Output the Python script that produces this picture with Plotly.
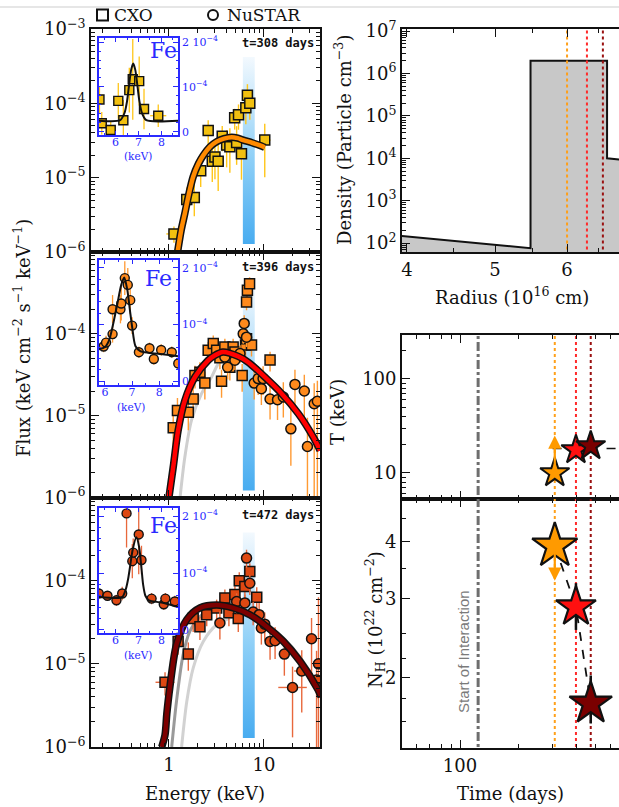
import numpy as np
import plotly.graph_objects as go

W, H = 619, 807


def fx(p):
    """pixel column -> paper x"""
    return p / W


def fy(p):
    """pixel row -> paper y"""
    return 1 - p / H


# ---------------- X-ray spectra (keV, keV cm^-2 s^-1 keV^-1) ----------------
# t = 308 days, Chandra only
E1 = [1.13, 1.54, 1.85, 2.16, 2.59, 2.86, 3.05, 3.30, 3.64, 4.05, 4.38, 4.92, 5.16, 5.40, 5.80, 6.45, 6.70, 7.10, 10.2]
F1 = [1.75e-6, 5.1e-6, 5.4e-6, 1.24e-5, 4.3e-5, 1.66e-5, 1.9e-5, 1.66e-5, 3.6e-5, 2.75e-5, 2.6e-5, 6.4e-5,
      2.97e-5, 7.0e-5, 2.1e-5, 8.7e-5, 1.28e-4, 1.0e-4, 3.2e-5]
F1_UP = [0.10, 0.16, 0.20, 0.18, 0.14, 0.20, 0.22, 0.28, 0.14, 0.20, 0.25, 0.12, 0.22, 0.14, 0.22, 0.16, 0.15, 0.14, 0.22]
F1_DN = [0.12, 0.20, 0.25, 0.22, 0.18, 0.28, 0.30, 0.40, 0.20, 0.30, 0.35, 0.16, 0.30, 0.20, 0.35, 0.22, 0.20, 0.22, 0.50]
E1_ERR = [0.08, 0.03, 0.03, 0.03, 0.03, 0.02, 0.02, 0.02, 0.02, 0.02, 0.02, 0.02, 0.02, 0.02, 0.02, 0.02, 0.02, 0.02, 0.06]
M1_E = [1.20, 1.35, 1.47, 1.62, 1.80, 2.05, 2.30, 2.70, 3.18, 3.80, 4.57, 5.30, 6.05, 7.50, 9.40, 10.2]
M1_F = [8e-7, 2.0e-6, 3.3e-6, 6.0e-6, 1.03e-5, 1.55e-5, 2.0e-5, 2.6e-5, 3.05e-5, 3.35e-5, 3.5e-5, 3.4e-5,
        3.2e-5, 2.95e-5, 2.67e-5, 2.55e-5]

# t = 396 days, Chandra + NuSTAR
E2C = [1.11, 1.23, 1.60, 1.80, 1.88, 2.12, 2.39, 2.59, 2.93, 3.18, 3.44, 3.58, 3.88, 4.38, 4.74, 4.95, 5.90,
       6.40, 6.56, 6.56, 6.70, 7.06, 7.40, 11.6]
F2C = [7.1e-6, 1.16e-5, 1.1e-5, 1.6e-5, 3.1e-5, 3.4e-5, 2.5e-5, 6.3e-5, 7.6e-5, 6.3e-5, 5.1e-5, 2.63e-5, 6.9e-5,
       3.9e-5, 6.9e-5, 6.0e-5, 3.1e-5, 7.3e-5, 8.7e-5, 2.45e-4, 3.4e-4, 4.1e-4, 7.3e-5, 4.8e-5]
F2C_UP = [0.18, 0.15, 0.16, 0.14, 0.12, 0.12, 0.14, 0.10, 0.10, 0.10, 0.10, 0.14, 0.10, 0.12, 0.10, 0.10, 0.14,
          0.10, 0.10, 0.08, 0.08, 0.08, 0.10, 0.10]
F2C_DN = [0.25, 0.20, 0.22, 0.18, 0.16, 0.16, 0.20, 0.14, 0.14, 0.14, 0.14, 0.20, 0.14, 0.16, 0.14, 0.14, 0.20,
          0.14, 0.14, 0.10, 0.10, 0.10, 0.14, 0.14]
E2C_ERR = [0.03] * 23 + [0.06]
E2N = [3.88, 4.15, 4.95, 5.60, 6.05, 6.20, 6.56, 7.90, 8.70, 9.40, 9.80, 11.6, 13.9, 16.0, 19.2, 21.2, 26.6, 28.7,
       33.8, 36.5]
F2N = [5.2e-5, 3.9e-5, 4.75e-5, 5.75e-5, 1.0e-4, 1.34e-4, 9.1e-5, 2.5e-5, 2.84e-5, 2.14e-5, 2.84e-5, 1.6e-5,
       1.57e-5, 1.69e-5, 6.9e-6, 2.41e-5, 2.0e-5, 4.2e-6, 1.4e-5, 1.5e-5]
F2N_UP = [0.10, 0.12, 0.10, 0.10, 0.10, 0.10, 0.10, 0.15, 0.15, 0.15, 0.15, 0.18, 0.18, 0.18, 0.25, 0.18, 0.20,
          0.35, 0.25, 0.25]
F2N_DN = [0.12, 0.15, 0.12, 0.12, 0.12, 0.12, 0.12, 0.20, 0.20, 0.20, 0.20, 0.25, 0.25, 0.25, 0.45, 0.30, 0.40,
          1.00, 1.20, 1.20]
E2N_ERR = [0.02] * 11 + [0.04, 0.04, 0.04, 0.05, 0.05, 0.05, 0.05, 0.04, 0.04]
M2_E = [1.0, 1.11, 1.25, 1.47, 1.88, 2.59, 3.0, 3.7, 5.37, 6.83, 10.2, 15.3, 23.0, 33.0, 39.0]
M2_F = [1.0e-6, 2.35e-6, 6.6e-6, 1.53e-5, 2.97e-5, 4.75e-5, 5.4e-5, 6.0e-5, 5.3e-5, 4.5e-5, 2.97e-5, 1.87e-5,
        1.06e-5, 5.5e-6, 3.76e-6]
G2_E = [1.31, 1.47, 1.73, 2.21, 2.81, 3.3, 4.2]
G2_F = [1.0e-6, 3.1e-6, 8.8e-6, 1.87e-5, 2.96e-5, 4.3e-5, 5.8e-5]

# t = 472 days, Chandra + NuSTAR
E3C = [0.91, 1.25, 1.60, 1.80, 2.12, 2.50, 3.18, 3.88, 4.28, 4.95, 5.37, 5.50, 6.30, 7.10, 8.40]
F3C = [6.0e-6, 1.86e-5, 1.31e-5, 3.5e-5, 2.8e-5, 3.9e-5, 4.7e-5, 6.2e-5, 4.1e-5, 6.8e-5, 3.5e-5, 1.0e-4, 8.5e-5,
       1.29e-4, 6.3e-5]
F3C_UP = [0.12, 0.12, 0.14, 0.12, 0.12, 0.10, 0.10, 0.10, 0.12, 0.10, 0.12, 0.10, 0.10, 0.10, 0.12]
F3C_DN = [0.16, 0.16, 0.20, 0.16, 0.16, 0.14, 0.14, 0.14, 0.16, 0.14, 0.16, 0.14, 0.14, 0.14, 0.16]
E3C_ERR = [0.10] + [0.03] * 14
E3N = [3.44, 5.16, 6.30, 6.56, 7.10, 7.70, 8.90, 9.40, 10.2, 11.6, 13.1, 16.4, 20.0, 25.0, 31.7, 35.8, 37.5]
F3N = [3.1e-5, 5.6e-5, 5.4e-5, 1.87e-4, 9.3e-5, 4.2e-5, 3.9e-5, 2.7e-5, 3.0e-5, 1.86e-5, 1.9e-5, 1.31e-5,
       5.2e-6, 8.2e-6, 2.0e-5, 6.4e-6, 1.0e-5]
F3N_UP = [0.14, 0.10, 0.10, 0.10, 0.10, 0.12, 0.14, 0.14, 0.14, 0.16, 0.16, 0.18, 0.25, 0.25, 0.25, 0.35, 0.80]
F3N_DN = [0.20, 0.14, 0.14, 0.12, 0.14, 0.16, 0.20, 0.20, 0.20, 0.22, 0.22, 0.26, 0.60, 0.50, 0.45, 1.20, 1.20]
E3N_ERR = [0.02] * 10 + [0.04, 0.04, 0.15, 0.08, 0.05, 0.04, 0.04]
M3_E = [0.84, 0.91, 0.95, 1.02, 1.2, 1.54, 2.12, 3.18, 4.74, 7.1, 10.7, 16.0, 24.0, 37.0, 40.0]
M3_F = [1.0e-6, 1.4e-6, 2.5e-6, 5.1e-6, 1.7e-5, 3.4e-5, 4.7e-5, 5.1e-5, 4.7e-5, 3.9e-5, 2.8e-5, 1.86e-5,
        1.07e-5, 4.9e-6, 4.0e-6]
G3A_E = [1.07, 1.2, 1.41, 1.66, 2.12, 2.8, 3.5, 4.74, 7.1, 10.7, 16.0, 24.0, 37.0, 40.0]
G3A_F = [1.0e-6, 3.5e-6, 1.28e-5, 2.45e-5, 3.7e-5, 4.6e-5, 5.0e-5, 4.9e-5, 4.15e-5, 3.0e-5, 2.05e-5, 1.2e-5,
         5.5e-6, 4.5e-6]
G3B_E = [1.36, 1.54, 1.8, 2.3, 3.18, 4.74, 6.0]
G3B_F = [1.0e-6, 3.5e-6, 8.9e-6, 1.86e-5, 2.95e-5, 3.7e-5, 4.2e-5]

# Fe K line band (keV) and its vertical extent in each panel
FE_BAND = [6.0, 8.0]
BAND_TOP = [4.2e-4, 4.2e-4, 3.8e-4]
BAND_BOT = [1.28e-6, 1.22e-6, 1.28e-6]

# ---------------- Fe-line insets (flux in units of 1e-4) ----------------
I1_E = [5.30, 5.40, 5.79, 6.12, 6.34, 6.60, 6.75, 7.03, 7.24, 7.86]
I1_F = [0.72, 0.19, 0.04, 0.69, 0.26, 0.93, 1.17, 1.13, 0.51, 0.36]
I1_ERR = [0.30, 0.25, 0.20, 0.40, 0.45, 0.50, 0.90, 0.55, 0.45, 0.25]
I1_XERR = [0.12, 0.05, 0.05, 0.05, 0.05, 0.05, 0.05, 0.05, 0.05, 0.35]
I1M_E = [5.28, 6.2, 6.39, 6.5, 6.58, 6.68, 6.77, 6.86, 6.96, 7.04, 7.15, 7.34, 8.72]
I1M_F = [0.25, 0.26, 0.42, 0.68, 1.0, 1.38, 1.52, 1.38, 1.0, 0.68, 0.42, 0.26, 0.25]

I2_E = [5.95, 6.04, 6.28, 6.28, 6.57, 6.60, 6.73, 6.84, 6.93, 7.00, 7.25, 7.64, 7.80, 8.07, 8.46, 8.70]
I2_F = [0.61, 0.68, 0.83, 1.27, 1.27, 1.37, 1.82, 1.70, 1.43, 0.98, 0.51, 0.58, 0.39, 0.55, 0.51, 0.31]
I2_ERR = [0.10, 0.12, 0.15, 0.25, 0.25, 0.30, 0.30, 0.30, 0.25, 0.15, 0.10, 0.10, 0.10, 0.10, 0.10, 0.10]
I2_XERR = [0.05] * 16
I2M_E = [5.78, 6.0, 6.15, 6.28, 6.45, 6.6, 6.71, 6.82, 6.92, 7.0, 7.12, 7.3, 7.6, 8.2, 8.69]
I2M_F = [0.56, 0.60, 0.72, 0.96, 1.35, 1.70, 1.83, 1.62, 1.25, 0.96, 0.62, 0.53, 0.50, 0.47, 0.44]

I3_E = [5.27, 5.65, 6.04, 6.29, 6.48, 6.73, 6.77, 7.01, 7.13, 7.57, 8.10, 8.17, 8.58]
I3_F = [0.64, 0.60, 0.52, 0.64, 2.05, 1.21, 1.36, 1.68, 1.23, 0.55, 0.45, 0.55, 0.50]
I3_ERR = [0.08, 0.08, 0.10, 0.12, 0.60, 0.30, 0.25, 0.70, 0.25, 0.10, 0.10, 0.10, 0.10]
I3_XERR = [0.06, 0.1, 0.1, 0.1, 0.05, 0.05, 0.05, 0.05, 0.05, 0.1, 0.1, 0.1, 0.1]
I3M_E = [5.28, 6.0, 6.3, 6.45, 6.55, 6.62, 6.75, 6.91, 7.03, 7.13, 7.2, 7.3, 7.45, 8.0, 8.72]
I3M_F = [0.58, 0.56, 0.58, 0.72, 0.90, 1.08, 1.42, 1.63, 1.45, 1.08, 0.80, 0.60, 0.52, 0.48, 0.40]

# ---------------- CSM density profile ----------------
RADIUS = [3.9, 5.47, 5.47, 6.64, 6.64, 6.78, 7.0]        # 1e16 cm
DENSITY = [150, 76, 2.0e6, 2.0e6, 1.0e4, 9.5e3, 9.0e3]   # particles cm^-3
R_EPOCH = [6.0, 6.31, 6.57]

# ---------------- temperature and column density vs time ----------------
T_DAYS = [308, 396, 472]
T_KEV = [10.0, 17.6, 19.4]
T_LIMIT = 25.0            # lower-limit arrow tip for the first epoch
T_FIT_DAYS = [300, 700]
T_FIT = [18.2, 18.2]
NH = [3.92, 2.87, 1.75]
NH_HI = [3.92, 3.24, 2.02]
NH_LO = [3.28, 2.55, 1.58]
T_START = 124             # start of interaction (days)

EPOCH_LABELS = ["t=308 days", "t=396 days", "t=472 days"]
EPOCH_COLORS = ["#ffa01a", "#ff2a2a", "#9a1010"]
STAR_COLORS = ["#ff9a00", "#ff1010", "#7a0000"]

SERIF = "DejaVu Serif"
INK = "#111111"
BLUE = "#2a2aff"

fig = go.Figure()


def log_err(vals, up, dn):
    v = np.array(vals, float)
    return v * (10 ** np.array(up) - 1), v * (1 - 10 ** -np.array(dn))


def add_points(xa, ya, E, F, up, dn, xe, symbol, fill, ecol):
    ey_p, ey_m = log_err(F, up, dn)
    ex_p, ex_m = log_err(E, xe, xe)
    fig.add_trace(go.Scatter(
        x=E, y=F, mode="markers", xaxis=xa, yaxis=ya, showlegend=False,
        marker=dict(symbol=symbol, size=10, color=fill, opacity=1, line=dict(color=INK, width=1.5)),
        error_y=dict(type="data", array=ey_p, arrayminus=ey_m, color=ecol, thickness=1.4, width=0),
        error_x=dict(type="data", array=ex_p, arrayminus=ex_m, color=ecol, thickness=1.4, width=0),
    ))


def add_model(xa, ya, E, F, color, outline=True, width=4.5):
    if outline:
        fig.add_trace(go.Scatter(x=E, y=F, mode="lines", xaxis=xa, yaxis=ya, showlegend=False,
                                 line=dict(color=INK, width=width + 3, shape="spline", smoothing=0.8)))
    fig.add_trace(go.Scatter(x=E, y=F, mode="lines", xaxis=xa, yaxis=ya, showlegend=False,
                             line=dict(color=color, width=width, shape="spline", smoothing=0.8)))


def add_band(xa, ya, top, bot):
    fig.add_trace(go.Scatter(
        x=[FE_BAND[0], FE_BAND[1], FE_BAND[1], FE_BAND[0], FE_BAND[0]],
        y=[bot, bot, top, top, bot], mode="lines", fill="toself", xaxis=xa, yaxis=ya,
        showlegend=False, line=dict(width=0),
        fillgradient=dict(type="vertical",
                          colorscale=[[0, "#48acf0"], [0.45, "#8dcff7"], [1, "#f3f9fe"]]),
    ))


# panel 1
add_band("x", "y", BAND_TOP[0], BAND_BOT[0])
add_points("x", "y", E1, F1, F1_UP, F1_DN, E1_ERR, "square", "#f2c010", "#ffc61a")
add_model("x", "y", M1_E, M1_F, "#ff8a00")

# panel 2
add_band("x2", "y2", BAND_TOP[1], BAND_BOT[1])
add_model("x2", "y2", G2_E, G2_F, "#cfcfcf", outline=False, width=3)
add_points("x2", "y2", E2C, F2C, F2C_UP, F2C_DN, E2C_ERR, "square", "#ff8a1c", "#ff9a33")
add_points("x2", "y2", E2N, F2N, F2N_UP, F2N_DN, E2N_ERR, "circle", "#ff8a1c", "#ff9a33")
add_model("x2", "y2", M2_E, M2_F, "#ff0000")

# panel 3
add_band("x3", "y3", BAND_TOP[2], BAND_BOT[2])
add_model("x3", "y3", G3B_E, G3B_F, "#d2d2d2", outline=False, width=3)
add_model("x3", "y3", G3A_E, G3A_F, "#9a9a9a", outline=False, width=3)
add_points("x3", "y3", E3C, F3C, F3C_UP, F3C_DN, E3C_ERR, "square", "#de4812", "#e8683c")
add_points("x3", "y3", E3N, F3N, F3N_UP, F3N_DN, E3N_ERR, "circle", "#de4812", "#e8683c")
add_model("x3", "y3", M3_E, M3_F, "#7d0000")

# insets
for (xa, ya, E, F, ERR, XERR, ME, MF, sym, fill, ecol) in [
    ("x4", "y4", I1_E, I1_F, I1_ERR, I1_XERR, I1M_E, I1M_F, "square", "#f2c010", "#ffc61a"),
    ("x5", "y5", I2_E, I2_F, I2_ERR, I2_XERR, I2M_E, I2M_F, "circle", "#ff8a1c", "#ff9a33"),
    ("x6", "y6", I3_E, I3_F, I3_ERR, I3_XERR, I3M_E, I3M_F, "circle", "#de4812", "#e8683c"),
]:
    fig.add_trace(go.Scatter(
        x=E, y=np.array(F) * 1e-4, mode="markers", xaxis=xa, yaxis=ya, showlegend=False,
        marker=dict(symbol=sym, size=9, color=fill, opacity=1, line=dict(color=INK, width=1.4)),
        error_y=dict(type="data", array=np.array(ERR) * 1e-4, color=ecol, thickness=1.3, width=0),
        error_x=dict(type="data", array=XERR, color=ecol, thickness=1.3, width=0),
    ))
    fig.add_trace(go.Scatter(x=ME, y=np.array(MF) * 1e-4, mode="lines", xaxis=xa, yaxis=ya,
                             showlegend=False,
                             line=dict(color=INK, width=2, shape="spline", smoothing=0.7)))

# density profile
fig.add_trace(go.Scatter(
    x=RADIUS + [RADIUS[-1], RADIUS[0]], y=DENSITY + [1, 1], mode="lines", fill="toself",
    fillcolor="#c8c8c8", line=dict(color=INK, width=2), xaxis="x7", yaxis="y7", showlegend=False))
for r, c in zip(R_EPOCH, EPOCH_COLORS):
    fig.add_trace(go.Scatter(x=[r, r], y=[10, 1e8], mode="lines", xaxis="x7", yaxis="y7",
                             showlegend=False, line=dict(color=c, width=2, dash="dot")))

# time evolution panels
for xa, ya, lo, hi in [("x8", "y8", 1, 1000), ("x9", "y9", 1, 10)]:
    fig.add_trace(go.Scatter(x=[T_START, T_START], y=[lo, hi], mode="lines", xaxis=xa, yaxis=ya,
                             showlegend=False, line=dict(color="#6e6e6e", width=3, dash="dashdot")))
    for t, c in zip(T_DAYS, EPOCH_COLORS):
        fig.add_trace(go.Scatter(x=[t, t], y=[lo, hi], mode="lines", xaxis=xa, yaxis=ya,
                                 showlegend=False, line=dict(color=c, width=2, dash="dot")))

fig.add_trace(go.Scatter(x=T_FIT_DAYS, y=T_FIT, mode="lines", xaxis="x8", yaxis="y8", showlegend=False,
                         line=dict(color=INK, width=1.5, dash="dash")))
fig.add_trace(go.Scatter(x=T_DAYS, y=T_KEV, mode="markers", xaxis="x8", yaxis="y8", showlegend=False,
                         marker=dict(symbol="star", size=22, color=STAR_COLORS, opacity=1,
                                     line=dict(color=INK, width=2))))

fig.add_trace(go.Scatter(x=T_DAYS, y=NH, mode="lines", xaxis="x9", yaxis="y9", showlegend=False,
                         line=dict(color=INK, width=1.8, dash="dash")))
nh = np.array(NH)
fig.add_trace(go.Scatter(
    x=T_DAYS[1:], y=NH[1:], mode="markers", xaxis="x9", yaxis="y9", showlegend=False,
    marker=dict(symbol="star", size=1, color="rgba(0,0,0,0)"),
    error_y=dict(type="data", array=(np.array(NH_HI) - nh)[1:], arrayminus=(nh - np.array(NH_LO))[1:],
                 color=INK, thickness=2.5, width=0)))
fig.add_trace(go.Scatter(x=T_DAYS, y=NH, mode="markers", xaxis="x9", yaxis="y9", showlegend=False,
                         marker=dict(symbol="star", size=[34, 30, 32], color=STAR_COLORS, opacity=1,
                                     line=dict(color=INK, width=2.2))))

# ---------------- axes ----------------
tick_font = dict(family=SERIF, size=18, color=INK)
E_MINOR = [0.2, 0.3, 0.4, 0.5, 0.6, 0.7, 0.8, 0.9, 2, 3, 4, 5, 6, 7, 8, 9, 20, 30]
F_MINOR = [k * 10.0 ** d for d in (-6, -5, -4) for k in range(2, 10)]
F_TICKS = [1e-6, 1e-5, 1e-4, 1e-3]
PANEL_Y = [(252, 29), (497.5, 252), (747, 497.5)]

frame = dict(showline=True, linecolor=INK, linewidth=1.8, ticks="inside", ticklen=8, tickwidth=1.4,
             tickcolor=INK, showgrid=False, zeroline=False, tickfont=tick_font, automargin=False)
minor_style = dict(ticks="inside", ticklen=4, tickwidth=1.1, tickcolor=INK, showgrid=False)

layout_axes = {}
for i, (ybot, ytop) in enumerate(PANEL_Y, start=1):
    sx = "" if i == 1 else str(i)
    layout_axes[f"xaxis{sx}"] = dict(
        frame, type="log", range=[-0.82, 1.59], domain=[fx(91), fx(320)], anchor=f"y{sx}",
        mirror="allticks", tickvals=[1, 10], ticktext=["1", "10"], showticklabels=(i == 3),
        minor=dict(minor_style, tickvals=E_MINOR))
    layout_axes[f"yaxis{sx}"] = dict(
        frame, type="log", range=[-6, -3], domain=[fy(ybot), fy(ytop)], anchor=f"x{sx}",
        mirror="allticks", tickvals=F_TICKS,
        ticktext=["10<sup>−6</sup>", "10<sup>−5</sup>", "10<sup>−4</sup>",
                  "10<sup>−3</sup>" if i == 1 else ""],
        minor=dict(minor_style, tickvals=F_MINOR))

INSET_Y = [(135, 38, [5.28, 8.72], [-0.07e-4, 2.09e-4]),
           (385, 260, [5.78, 8.69], [-0.07e-4, 2.14e-4]),
           (632.7, 508.3, [5.28, 8.72], [-0.05e-4, 2.14e-4])]
blue_font = dict(family=SERIF, size=11, color=BLUE)
for k, (ybot, ytop, xr, yr) in enumerate(INSET_Y, start=4):
    layout_axes[f"xaxis{k}"] = dict(
        range=xr, domain=[fx(99), fx(178)], anchor=f"y{k}", automargin=False,
        showline=True, linecolor=BLUE, linewidth=1.5, mirror="allticks", ticks="inside", ticklen=4,
        tickcolor=BLUE, tickvals=[6, 7, 8], tickfont=blue_font, ticklabelstandoff=-4,
        showgrid=False, zeroline=False,
        minor=dict(ticks="inside", ticklen=2, tickcolor=BLUE, tickvals=[5.5, 6.5, 7.5, 8.5]))
    layout_axes[f"yaxis{k}"] = dict(
        range=yr, domain=[fy(ybot), fy(ytop)], anchor=f"x{k}", side="right", automargin=False,
        showline=True, linecolor=BLUE, linewidth=1.5, mirror="allticks", ticks="inside", ticklen=5,
        tickcolor=BLUE, tickvals=[0, 1e-4, 2e-4], ticktext=["0", "10<sup>−4</sup>", "2 10<sup>−4</sup>"],
        tickfont=blue_font, showgrid=False, zeroline=False,
        minor=dict(ticks="inside", ticklen=2.5, tickcolor=BLUE,
                   tickvals=[j * 0.2e-4 for j in range(1, 11) if j not in (5, 10)]))

layout_axes["xaxis7"] = dict(
    frame, type="log", range=[0.5966, 0.8353], domain=[fx(402), 1], anchor="y7", mirror="allticks",
    tickvals=[4, 5, 6], ticktext=["4", "5", "6"],
    minor=dict(minor_style, tickvals=[4.5, 5.5, 6.5]))
layout_axes["yaxis7"] = dict(
    frame, type="log", range=[1.79, 7.05], domain=[fy(252), fy(29)], anchor="x7", mirror=False,
    tickvals=[1e2, 1e3, 1e4, 1e5, 1e6, 1e7],
    ticktext=["10<sup>2</sup>", "10<sup>3</sup>", "10<sup>4</sup>", "10<sup>5</sup>", "10<sup>6</sup>",
              "10<sup>7</sup>"],
    minor=dict(minor_style, tickvals=[k * 10.0 ** d for d in range(1, 7) for k in range(2, 10)]))

T_MINOR = [60, 70, 80, 90, 200, 300, 400, 500, 600]
layout_axes["xaxis8"] = dict(
    frame, type="log", range=[1.701, 2.8196], domain=[fx(402), 1], anchor="y8", mirror="allticks",
    tickvals=[100], showticklabels=False, minor=dict(minor_style, tickvals=T_MINOR))
layout_axes["yaxis8"] = dict(
    frame, type="log", range=[0.723, 2.468], domain=[fy(499), fy(335)], anchor="x8", mirror=False,
    tickvals=[10, 100], ticktext=["10", "100"],
    minor=dict(minor_style, tickvals=[6, 7, 8, 9, 20, 30, 40, 50, 60, 70, 80, 90, 200]))
layout_axes["xaxis9"] = dict(
    frame, type="log", range=[1.701, 2.8196], domain=[fx(402), 1], anchor="y9", mirror="allticks",
    tickvals=[100], ticktext=["100"], minor=dict(minor_style, tickvals=T_MINOR))
layout_axes["yaxis9"] = dict(
    frame, type="log", range=[0.1442, 0.6976], domain=[fy(748), fy(499)], anchor="x9", mirror=False,
    tickvals=[2, 3, 4], ticktext=["2", "3", "4"],
    minor=dict(minor_style, tickvals=[1.6, 1.8, 2.2, 2.5, 3.5, 4.5]))


# ---------------- text ----------------
def label(x, y, text, size=18, angle=0, color=INK, family=SERIF, xanchor="center"):
    return dict(xref="paper", yref="paper", x=fx(x), y=fy(y), text=text, showarrow=False,
                textangle=angle, xanchor=xanchor, yanchor="middle",
                font=dict(family=family, size=size, color=color))


annotations = [
    label(22, 338, "Flux (keV cm<sup>−2</sup> s<sup>−1</sup> keV<sup>−1</sup>)", angle=-90),
    label(205, 793, "Energy (keV)"),
    label(343, 140, "Density (Particle cm<sup>−3</sup>)", angle=-90),
    label(512, 296, "Radius (10<sup>16</sup> cm)"),
    label(337, 412, "T (keV)", angle=-90),
    label(375, 620, "N<sub>H</sub> (10<sup>22</sup> cm<sup>−2</sup>)", angle=-90),
    label(510, 793, "Time (days)"),
    label(463, 652, "Start of Interaction", size=15, angle=-90, color="#7a7a7a", family="Liberation Sans"),
    label(112, 15, "CXO", size=17, xanchor="left"),
    label(225, 15, "NuSTAR", size=17, xanchor="left"),
]
for y_txt, txt in zip([43, 267, 515], EPOCH_LABELS):
    annotations.append(dict(xref="paper", yref="paper", x=fx(316), y=fy(y_txt), text=f"<b>{txt}</b>",
                            showarrow=False, xanchor="right", yanchor="middle",
                            font=dict(family="DejaVu Sans Mono", size=12, color=INK)))
for (fx_, fy_), (kx, ky) in zip([(163, 50), (158, 278), (163, 525)], [(138, 156), (131, 407), (138, 655)]):
    annotations.append(label(fx_, fy_, "Fe", size=22, color=BLUE))
    annotations.append(label(kx, ky, "(keV)", size=10.5, color=BLUE))

# limit arrows
annotations.append(dict(xref="x8", yref="y8", axref="x8", ayref="y8",
                        x=np.log10(T_DAYS[0]), y=np.log10(T_LIMIT),
                        ax=np.log10(T_DAYS[0]), ay=np.log10(T_KEV[0]),
                        text="", showarrow=True, arrowhead=2, arrowsize=1.2, arrowwidth=2.2,
                        arrowcolor="#ff9a00"))
annotations.append(dict(xref="x9", yref="y9", axref="x9", ayref="y9",
                        x=np.log10(T_DAYS[0]), y=np.log10(NH_LO[0]),
                        ax=np.log10(T_DAYS[0]), ay=np.log10(NH[0]),
                        text="", showarrow=True, arrowhead=2, arrowsize=1.2, arrowwidth=2.2,
                        arrowcolor="#ff9a00"))

shapes = [
    dict(type="line", xref="paper", yref="paper", x0=0, x1=1, y0=fy(7), y1=fy(7),
         line=dict(color="#e6e6e6", width=2)),
    dict(type="rect", xref="paper", yref="paper", x0=fx(97), x1=fx(108), y0=fy(20.5), y1=fy(9.5),
         line=dict(color=INK, width=2)),
    dict(type="circle", xref="paper", yref="paper", x0=fx(208), x1=fx(218), y0=fy(20), y1=fy(10),
         line=dict(color=INK, width=2)),
]

fig.update_layout(
    width=W, height=H, margin=dict(l=0, r=0, t=0, b=0, autoexpand=False),
    paper_bgcolor="white", plot_bgcolor="white",
    showlegend=False, annotations=annotations, shapes=shapes,
    **layout_axes,
)

fig.write_html("out.html")
